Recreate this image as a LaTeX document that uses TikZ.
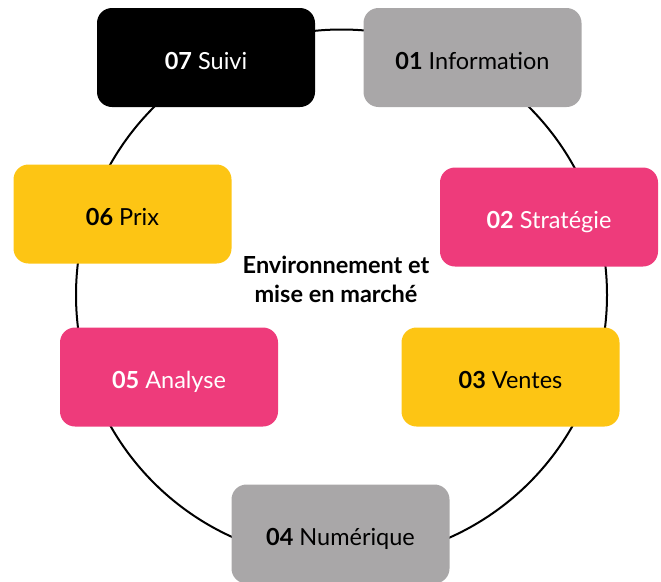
\documentclass[tikz,border=0pt]{standalone}
\usepackage{fontspec}
\setmainfont{Lato}
\usepackage{xcolor}
\usepackage{tikz}
\usetikzlibrary{positioning}

\definecolor{stagegray}{HTML}{A9A7A8}
\definecolor{stagepink}{HTML}{EE3B7B}
\definecolor{stageyellow}{HTML}{FDC514}

\begin{document}
\begin{tikzpicture}[x=1pt, y=-1pt,
    stage/.style={rounded corners=15pt, minimum width=218pt, minimum height=99pt, text height=25pt, text depth=2pt, align=center, font=\fontsize{23.5}{28}\selectfont}]
    \useasboundingbox (0,0) rectangle (661,581);
    % ring behind the stages
    \coordinate (hub) at (341.5,295);
    \draw[line width=2pt] (hub) circle[radius=265.5pt];
    \node[font=\fontsize{23.5}{29}\selectfont\bfseries, align=center] (core) at (336,279) {Environnement et\\mise en march\'e};
    % stages
    \node[stage, fill=stagegray] (info) at (472.5,57.5) {\textbf{01} Information};
    \node[stage, fill=stagepink, text=white] (strat) at (549,217) {\textbf{02} Strat\'egie};
    \node[stage, fill=stageyellow] (ventes) at (510.5,377) {\textbf{03} Ventes};
    \node[stage, fill=stagegray] (numerique) at (340.5,534) {\textbf{04} Num\'erique};
    \node[stage, fill=stagepink, text=white] (analyse) at (169,377) {\textbf{05} Analyse};
    \node[stage, fill=stageyellow] (prix) at (122.5,214) {\textbf{06} Prix};
    \node[stage, fill=black, text=white] (suivi) at (206,57.5) {\textbf{07} Suivi};
\end{tikzpicture}
\end{document}
